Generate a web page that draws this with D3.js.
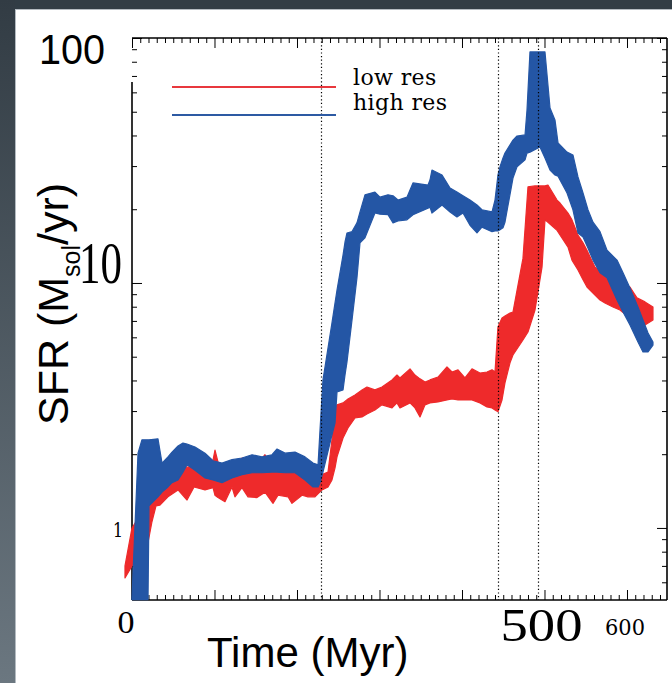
<!DOCTYPE html>
<html><head><meta charset="utf-8">
<script src="https://cdn.jsdelivr.net/npm/d3@7"></script>
<style>html,body{margin:0;padding:0;background:#fff;} svg{display:block}</style>
</head><body>
<script>
// ---- data (Time in Myr, SFR in Msol/yr; bands = min/max envelope) ----
const lowTime = [-8.5,0,9.7,19.4,24.2,29.1,33.9,43.6,55.8,66.7,75.2,88.5,98.2,100.6,104.2,112.7,121.2,124.8,133.3,140.6,151.5,161.2,170.9,177.0,189.1,193.9,206.1,213.3,221.8,230.3,237.6,242.4,246.1,248.5,255.8,261.8,270.3,278.8,284.8,294.5,303.0,315.2,321.2,324.8,337.0,343.0,349.1,355.2,361.2,370.9,381.8,387.9,395.2,403.6,412.1,421.8,430.3,436.4,440.0,443.6,448.5,452.1,458.2,461.8,473.9,480.0,488.5,497.0,500.6,504.2,515.2,518.8,528.5,533.3,540.6,546.7,551.5,561.2,567.3,573.3,583.0,591.5,603.6,612.1,621.8,631.5];
const lowMax  = [0.70,1.0,1.13,1.26,1.39,1.47,1.54,1.69,1.81,1.77,1.79,1.72,1.89,2.08,1.86,1.72,1.72,1.76,1.93,1.86,1.81,1.99,1.79,1.79,1.77,1.76,1.72,1.69,1.66,1.65,1.69,2.29,3.03,3.18,3.24,3.36,3.49,3.66,3.76,3.66,3.76,4.02,4.21,4.10,4.46,4.21,4.06,3.94,4.02,4.13,4.54,4.33,4.42,4.10,4.46,4.29,4.33,4.42,4.33,6.61,7.20,7.33,7.54,7.61,12.6,24.7,24.9,24.9,24.9,25.1,21.8,21.2,19.3,18.1,15.7,14.6,13.6,11.6,11.3,10.8,10.3,10.0,9.63,8.69,8.37,7.98];
const lowMin  = [0.625,0.70,0.776,0.87,1.06,1.23,1.24,1.34,1.43,1.30,1.47,1.43,1.46,1.36,1.33,1.28,1.47,1.34,1.46,1.34,1.33,1.40,1.26,1.36,1.34,1.26,1.36,1.34,1.34,1.43,1.47,1.57,1.76,1.95,2.33,2.56,2.81,2.84,2.92,3.03,3.18,3.09,3.24,3.09,3.24,3.09,2.84,3.18,3.24,3.27,3.33,3.36,3.33,3.33,3.33,3.24,3.12,3.09,3.03,2.98,3.33,3.91,4.72,5.08,5.85,6.31,7.76,11.6,18.1,17.7,16.4,15.7,14.0,12.4,11.3,10.3,9.63,8.93,8.52,8.29,7.98,7.76,7.20,6.55,6.74,7.06];

const highTime = [0,7.3,12.1,19.4,20.6,31.5,36.4,43.6,48.5,55.8,61.8,66.7,76.4,88.5,98.2,109.1,121.2,133.3,145.5,157.6,169.7,175.8,185.5,197.6,209.7,219.4,225.5,227.9,231.5,242.4,246.1,248.5,255.8,258.2,260.6,266.7,272.7,276.4,282.4,294.5,300.6,310.3,316.4,322.4,333.3,340.6,358.8,361.2,363.6,375.8,385.5,393.9,401.2,409.7,418.2,424.2,436.4,440.0,443.6,446.1,449.7,452.1,461.8,466.7,476.4,478.8,482.4,494.5,500.6,506.7,512.7,516.4,527.3,534.5,540.6,546.7,552.7,558.8,567.3,575.8,587.9,595.2,603.6,613.3,619.4,625.5,631.5];
const highMax  = [0.52,2.02,2.29,2.29,2.29,2.31,1.84,1.95,2.04,2.16,2.22,2.20,2.14,2.02,1.88,1.84,1.90,1.93,1.99,1.95,1.99,2.10,2.02,2.04,1.95,1.84,1.81,2.51,4.02,6.87,8.29,9.36,13.0,14.7,16.0,16.2,17.6,19.5,22.9,23.5,22.4,22.9,22.7,21.8,22.4,25.6,25.1,26.3,28.9,27.6,24.4,23.5,22.7,21.8,20.8,19.9,19.5,21.8,27.6,29.8,32.4,33.9,38.3,39.8,40.2,50.8,87.7,87.7,87.7,51.8,46.3,37.3,34.2,33.3,27.1,23.3,19.9,17.7,16.2,13.6,12.4,11.0,9.54,7.98,7.06,6.25,5.74];
const highMin  = [0.51,0.51,0.51,0.51,1.23,1.34,1.40,1.47,1.53,1.57,1.69,1.81,1.72,1.60,1.57,1.53,1.60,1.65,1.68,1.68,1.69,1.69,1.68,1.68,1.57,1.47,1.47,1.53,1.69,2.40,2.68,3.59,3.66,4.21,4.76,7.06,10.5,14.6,15.3,19.3,19.1,19.0,17.6,17.9,18.1,19.0,20.2,20.4,19.3,20.8,19.5,18.6,19.3,17.2,16.0,16.9,16.2,16.3,16.3,16.5,16.8,17.7,26.8,29.8,31.8,33.9,34.2,35.9,32.4,28.9,27.6,27.3,23.3,19.9,16.0,15.4,13.9,12.4,11.0,10.5,8.52,7.61,6.74,5.74,5.23,5.23,5.58];

const seriesNames = ["low res", "high res"];
const markerTimes = [229, 444, 492];
const xMajorTicks = [0, 100, 200, 300, 400, 500, 600];
const xMinorTicks = d3.range(0, 650, 10).filter(v => v % 100 !== 0);
const yMajorTicks = [1, 10, 100];
const yMinorTicks = [0.6, 0.7, 0.8, 0.9, 2, 3, 4, 5, 6, 7, 8, 9, 20, 30, 40, 50, 60, 70, 80, 90];
const xTickLabels = [0, 500, 600];
const yTickLabels = [1, 10, 100];
const xTitle = "Time (Myr)";

// sanity check
[[lowTime, lowMax, lowMin], [highTime, highMax, highMin]].forEach((s, i) => {
  if (s[0].length !== s[1].length || s[0].length !== s[2].length)
    throw new Error("length mismatch in series " + i + ": " + s.map(a => a.length).join(","));
});

// ---- drawing ----
const W = 672, H = 683;
const svg = d3.select("body").append("svg").attr("width", W).attr("height", H);

const defs = svg.append("defs");
const grad = defs.append("linearGradient").attr("id", "strip").attr("x1", 0).attr("y1", 0).attr("x2", 0).attr("y2", 1);
grad.append("stop").attr("offset", "0%").attr("stop-color", "#323c44");
grad.append("stop").attr("offset", "100%").attr("stop-color", "#6b7780");

svg.append("rect").attr("width", W).attr("height", H).attr("fill", "#fff");
svg.append("rect").attr("x", 0).attr("y", 0).attr("width", W).attr("height", 9).attr("fill", "#323d45");
svg.append("rect").attr("x", 0).attr("y", 0).attr("width", 15).attr("height", H).attr("fill", "url(#strip)");
svg.append("line").attr("x1", 15.5).attr("x2", 15.5).attr("y1", 9).attr("y2", H).attr("stroke", "#b4bbc1").attr("stroke-width", 1);
svg.append("line").attr("x1", 15).attr("x2", W).attr("y1", 9.5).attr("y2", 9.5).attr("stroke", "#b4bbc1").attr("stroke-width", 1);

const x = d3.scaleLinear().domain([0, 648.5]).range([132, 667]);
const y = d3.scaleLog().domain([0.508, 100]).range([600, 38]);
const [x0, x1] = x.range();
const [yb, yt] = y.range();

// ticks
function ticks(axisGen, values, size, transform) {
  const g = svg.append("g").attr("transform", transform)
    .call(axisGen.tickValues(values).tickSize(size).tickFormat(""));
  g.select(".domain").remove();
  g.selectAll(".tick line").attr("stroke", "#000").attr("stroke-width", 1);
}
ticks(d3.axisBottom(x), xMinorTicks, -5, `translate(0,${yb})`);
ticks(d3.axisBottom(x), xMajorTicks, -10, `translate(0,${yb})`);
ticks(d3.axisTop(x), xMinorTicks, -5, `translate(0,${yt})`);
ticks(d3.axisTop(x), xMajorTicks, -10, `translate(0,${yt})`);
ticks(d3.axisLeft(y), yMinorTicks, -5, `translate(${x0},0)`);
ticks(d3.axisLeft(y), yMajorTicks, -10, `translate(${x0},0)`);
ticks(d3.axisRight(y), yMinorTicks, -5, `translate(${x1},0)`);
ticks(d3.axisRight(y), yMajorTicks, -10, `translate(${x1},0)`);

// spines
const spine = svg.append("g").attr("stroke", "#000").attr("stroke-width", 1.6).attr("fill", "none");
spine.append("line").attr("x1", x0).attr("x2", x1).attr("y1", yt).attr("y2", yt);
spine.append("line").attr("x1", x0).attr("x2", x1).attr("y1", yb).attr("y2", yb);
spine.append("line").attr("x1", x1).attr("x2", x1).attr("y1", yt).attr("y2", yb);
spine.append("line").attr("x1", x0).attr("x2", x0).attr("y1", 82).attr("y2", yb);

// bands
const colors = ["#ee2a2b", "#2456a5"];
const legendColors = ["#e8383d", "#2d5aa3"];
function band(t, lo, hi, color) {
  const pts = t.map((d, i) => ({ t: d, lo: lo[i], hi: hi[i] }));
  const area = d3.area().x(d => x(d.t)).y0(d => y(d.lo)).y1(d => y(d.hi)).curve(d3.curveLinear);
  svg.append("path").datum(pts).attr("d", area).attr("fill", color)
    .attr("stroke", color).attr("stroke-width", 1.2).attr("stroke-linejoin", "round");
}
band(lowTime, lowMin, lowMax, colors[0]);
band(highTime, highMin, highMax, colors[1]);

// dotted markers
svg.append("g").selectAll("line").data(markerTimes).join("line")
  .attr("x1", d => Math.round(x(d)) + 0.5).attr("x2", d => Math.round(x(d)) + 0.5)
  .attr("y1", yt).attr("y2", yb)
  .attr("stroke", "#000").attr("stroke-width", 1.2).attr("stroke-dasharray", "1.2,2.4");

// legend
const leg = svg.append("g");
seriesNames.forEach((name, i) => {
  const ly = [87, 115][i];
  leg.append("line").attr("x1", 172).attr("x2", 336).attr("y1", ly).attr("y2", ly)
    .attr("stroke", legendColors[i]).attr("stroke-width", 2);
  leg.append("text").attr("x", 353).attr("y", [85, 110][i])
    .attr("font-family", "DejaVu Serif, serif").attr("font-size", 22).attr("letter-spacing", 0.4)
    .attr("fill", "#000").text(name);
});

// tick labels (odd pasted styles as in reference)
const xlStyles = [
  { dx: -6, y: 633, font: "Liberation Serif", size: 32, len: 17, weight: 300 },
  { dx: -3, y: 641, font: "Liberation Serif", size: 47, len: 82, weight: 400 },
  { dx: -2, y: 635, font: "DejaVu Serif", size: 22, len: 40, weight: 400 }
];
xTickLabels.forEach((v, i) => {
  const s = xlStyles[i];
  svg.append("text").attr("x", x(v) + s.dx).attr("y", s.y).attr("text-anchor", "middle")
    .attr("font-family", s.font).attr("font-size", s.size).attr("font-weight", s.weight)
    .attr("textLength", s.len).attr("lengthAdjust", "spacingAndGlyphs").text(v);
});
const ylStyles = [
  { xr: 123, y: 537, font: "DejaVu Serif", size: 20, len: 10 },
  { xr: 122, y: 283, font: "Liberation Serif", size: 59, len: 43 },
  { xr: 105, y: 64, font: "Liberation Sans", size: 43, len: 66 }
];
yTickLabels.forEach((v, i) => {
  const s = ylStyles[i];
  svg.append("text").attr("x", s.xr).attr("y", s.y).attr("text-anchor", "end")
    .attr("font-family", s.font).attr("font-size", s.size)
    .attr("textLength", s.len).attr("lengthAdjust", "spacingAndGlyphs").text(v);
});

// axis titles
svg.append("text").attr("x", 207).attr("y", 667)
  .attr("font-family", "Liberation Sans, Arial, sans-serif").attr("font-size", 42).text(xTitle);
const ytl = svg.append("text").attr("transform", "translate(68,425) rotate(-90)")
  .attr("font-family", "Liberation Sans, Arial, sans-serif").attr("font-size", 43);
ytl.append("tspan").text("SFR (M");
ytl.append("tspan").attr("font-size", 25).attr("dy", 12).text("sol");
ytl.append("tspan").attr("dy", -12).text("/yr)");
</script>
</body></html>
